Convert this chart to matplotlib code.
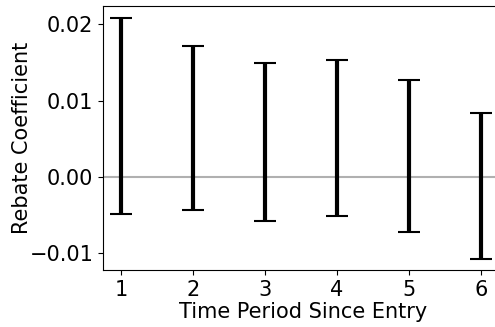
import numpy as np
import matplotlib
matplotlib.use("Agg")
import matplotlib.pyplot as plt

periods = [1, 2, 3, 4, 5, 6]
upper = [0.0208, 0.0172, 0.0149, 0.0153, 0.0127, 0.0084]
lower = [-0.0048, -0.0043, -0.0058, -0.0051, -0.0072, -0.0107]

mid = [(u + l) / 2 for u, l in zip(upper, lower)]
err = [(u - l) / 2 for u, l in zip(upper, lower)]

plt.rcParams['font.size'] = 15
fig = plt.figure(figsize=(4.95, 3.27), dpi=100)
ax = fig.add_axes([103 / 495, 57 / 327, 400 / 495, 264.5 / 327])

ax.axhline(0, color='#b0b0b0', linewidth=1.5, zorder=1)
ax.errorbar(periods, mid, yerr=err, fmt='none', ecolor='black',
            elinewidth=3, capsize=8, capthick=1.5, zorder=2)

ax.set_xlim(0.75, 6.31)
ax.set_ylim(-0.0122, 0.02245)
ax.set_xticks(periods)
ax.set_yticks([-0.01, 0.0, 0.01, 0.02])
ax.set_xlabel("Time Period Since Entry", labelpad=2)
ax.set_ylabel("Rebate Coefficient")
ax.yaxis.set_label_coords(-0.178, 0.5)

fig.savefig("out.png", dpi=100)
